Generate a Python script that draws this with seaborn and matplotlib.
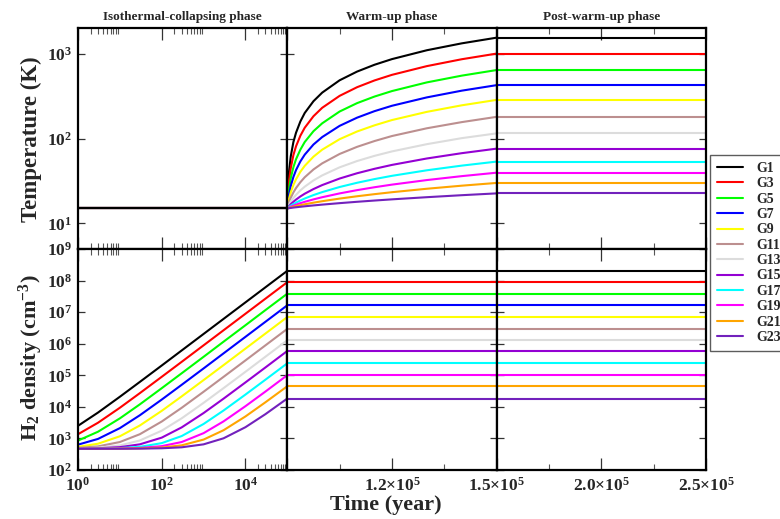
import numpy as np
import pandas as pd
import seaborn as sns
import matplotlib
matplotlib.use("Agg")
import matplotlib.pyplot as plt
from matplotlib.lines import Line2D
from matplotlib.ticker import FixedLocator, FixedFormatter, NullLocator

# ---------------- data ----------------
groups = ['G1', 'G3', 'G5', 'G7', 'G9', 'G11', 'G13', 'G15', 'G17', 'G19', 'G21', 'G23']
colors = ['#000000', '#ff0000', '#00ff00', '#0000ff', '#ffff00', '#bc8f8f',
          '#dcdcdc', '#9400d3', '#00ffff', '#ff00ff', '#ffa500', '#7221bc']

# Isothermal-collapsing phase
t_collapse = [1, 3, 10, 30, 100, 300, 1e3, 3e3, 1e4, 3e4, 1e5]
n_collapse = {
    'G1':  [2510, 6590, 20900, 61700, 2.04e5, 6.12e5, 2.04e6, 6.12e6, 2.04e7, 6.12e7, 2.04e8],
    'G3':  [1360, 3140, 9370, 27200, 89500, 2.67e5, 8.9e5, 2.67e6, 8.9e6, 2.67e7, 8.9e7],
    'G5':  [855, 1630, 4320, 12000, 39000, 1.16e5, 3.85e5, 1.16e6, 3.85e6, 1.16e7, 3.85e7],
    'G7':  [635, 965, 2120, 5420, 17000, 50000, 1.65e5, 4.95e5, 1.65e6, 4.95e6, 1.65e7],
    'G9':  [540, 680, 1170, 2570, 7470, 21500, 70500, 2.1e5, 7.0e5, 2.1e6, 7.0e6],
    'G11': [500, 560, 770, 1360, 3430, 9350, 30100, 89300, 2.96e5, 8.88e5, 2.96e6],
    'G13': [483, 510, 600, 860, 1760, 4340, 13400, 39200, 1.29e5, 3.87e5, 1.29e6],
    'G15': [476, 488, 530, 650, 1060, 2240, 6370, 18200, 59500, 1.77e5, 5.9e5],
    'G17': [472, 477, 494, 542, 710, 1190, 2870, 7670, 24500, 72500, 2.4e5],
    'G19': [471, 473, 480, 500, 570, 770, 1470, 3470, 10500, 30500, 1.01e5],
    'G21': [470, 471, 475, 484, 515, 605, 920, 1820, 4970, 13970, 4.5e4],
    'G23': [470, 471, 472, 475, 488, 524, 650, 1010, 2270, 5870, 1.84e4],
}
t_iso_T = [1, 1e5]
T_iso = [15, 15]

# Warm-up phase
t_warm = [9.0e4, 9.05e4, 9.1e4, 9.175e4, 9.25e4, 9.375e4, 9.5e4, 9.75e4,
          1.0e5, 1.05e5, 1.1e5, 1.15e5, 1.2e5, 1.3e5, 1.4e5, 1.5e5]
T_warm = {
    'G1':  [15, 41, 62, 91, 117, 159, 200, 275, 347, 485, 614, 739, 861, 1095, 1320, 1540],
    'G3':  [15, 32, 45, 64, 81, 108, 134, 183, 230, 318, 402, 483, 562, 712, 858, 1000],
    'G5':  [15, 25.7, 34.3, 46, 57, 74, 91, 122, 151, 208, 261, 312, 362, 458, 550, 640],
    'G7':  [15, 22.0, 27.7, 35.3, 42.5, 53.8, 64.6, 85.0, 104, 141, 176, 210, 243, 305, 366, 425],
    'G9':  [15, 19.6, 23.3, 28.4, 33.1, 40.6, 47.7, 61.1, 73.9, 98.2, 121, 143, 165, 206, 246, 285],
    'G11': [15, 17.8, 20.1, 23.2, 26.1, 30.6, 35.0, 43.2, 51.0, 65.8, 79.8, 93.4, 107, 132, 156, 180],
    'G13': [15, 16.7, 18.1, 20.0, 21.7, 24.5, 27.1, 32.1, 36.8, 45.8, 54.3, 62.5, 70.5, 85.8, 101, 115],
    'G15': [15, 16.0, 16.9, 18.0, 19.1, 20.8, 22.4, 25.4, 28.3, 33.8, 39.0, 44.0, 48.9, 58.2, 67.2, 76],
    'G17': [15, 15.66, 16.19, 16.91, 17.58, 18.65, 19.66, 21.58, 23.39, 26.86, 30.13, 33.29, 36.37, 42.26, 47.96, 53.5],
    'G19': [15, 15.42, 15.76, 16.22, 16.65, 17.33, 17.98, 19.20, 20.36, 22.58, 24.67, 26.69, 28.65, 32.42, 36.06, 39.6],
    'G21': [15, 15.26, 15.46, 15.74, 16.0, 16.42, 16.82, 17.56, 18.27, 19.62, 20.9, 22.13, 23.33, 25.62, 27.84, 30],
    'G23': [15, 15.13, 15.23, 15.38, 15.51, 15.72, 15.92, 16.30, 16.66, 17.34, 17.99, 18.61, 19.22, 20.38, 21.51, 22.6],
}
t_warm_flat = [9.0e4, 1.5e5]
n_final = [2.04e8, 8.9e7, 3.85e7, 1.65e7, 7.0e6, 2.96e6, 1.29e6, 5.9e5, 2.4e5, 1.01e5, 4.5e4, 1.84e4]

# Post-warm-up phase
t_post = [1.5e5, 2.5e5]
T_final = [1540, 1000, 640, 425, 285, 180, 115, 76, 53.5, 39.6, 30, 22.6]

# ---------------- style ----------------
sns.set_theme(style='white')
plt.rcParams['font.family'] = ['Liberation Serif', 'DejaVu Serif']
plt.rcParams['font.weight'] = 'bold'
plt.rcParams['mathtext.fontset'] = 'custom'
plt.rcParams['mathtext.rm'] = 'Liberation Serif:bold'
plt.rcParams['mathtext.bf'] = 'Liberation Serif:bold'
plt.rcParams['mathtext.it'] = 'Liberation Serif:bold'

palette = dict(zip(groups, colors))
LW = 1.5


def frame(rows):
    return pd.DataFrame(rows, columns=['t', 'v', 'g'])


def draw(ax, df, order):
    sns.lineplot(data=df, x='t', y='v', hue='g', hue_order=order, palette=palette,
                 estimator=None, sort=False, legend=False, linewidth=LW, ax=ax)
    ax.set_xlabel('')
    ax.set_ylabel('')


fig, axes = plt.subplots(2, 3, figsize=(7.8, 5.19), dpi=100)
fig.subplots_adjust(left=0.1, right=0.905, bottom=0.0944, top=0.946, wspace=0, hspace=0)

for ax in axes.flat:
    ax.set_yscale('log')
axes[0, 0].set_xscale('log')
axes[1, 0].set_xscale('log')

# top-left: temperature constant
df = frame([(t, T, g) for g in groups for t, T in zip(t_iso_T, T_iso)])
draw(axes[0, 0], df, groups[::-1])
# top-middle: warm-up
df = frame([(t, T, g) for g in groups for t, T in zip(t_warm, T_warm[g])])
draw(axes[0, 1], df, groups)
# top-right: post
df = frame([(t, T_final[i], g) for i, g in enumerate(groups) for t in t_post])
draw(axes[0, 2], df, groups)
# bottom-left: density collapse
df = frame([(t, n, g) for g in groups for t, n in zip(t_collapse, n_collapse[g])])
draw(axes[1, 0], df, groups)
# bottom-middle
df = frame([(t, n_final[i], g) for i, g in enumerate(groups) for t in t_warm_flat])
draw(axes[1, 1], df, groups)
# bottom-right
df = frame([(t, n_final[i], g) for i, g in enumerate(groups) for t in t_post])
draw(axes[1, 2], df, groups)

# ---------------- axes formatting ----------------
xlims = [(1, 1e5), (9e4, 1.5e5), (1.5e5, 2.5e5)]
xmaj = [[1, 100, 1e4], [9e4, 1.2e5, 1.5e5], [1.5e5, 2.0e5, 2.5e5]]
xmin = [[m * d for d in (1, 100, 1e4) for m in range(2, 10)], [1.05e5, 1.35e5], [1.75e5, 2.25e5]]
xlab = [[r'$\mathbf{10^{0}}$', r'$\mathbf{10^{2}}$', r'$\mathbf{10^{4}}$'],
        ['', r'$\mathbf{1.2{\times}10^{5}}$', r'$\mathbf{1.5{\times}10^{5}}$'],
        ['', r'$\mathbf{2.0{\times}10^{5}}$', r'$\mathbf{2.5{\times}10^{5}}$']]

for r in range(2):
    for c in range(3):
        ax = axes[r, c]
        ax.set_xlim(*xlims[c])
        if r == 0:
            ax.set_ylim(5, 2000)
            ax.yaxis.set_major_locator(FixedLocator([10, 100, 1000]))
            ylabels = [r'$\mathbf{10^{1}}$', r'$\mathbf{10^{2}}$', r'$\mathbf{10^{3}}$']
        else:
            ax.set_ylim(1e2, 1e9)
            ax.yaxis.set_major_locator(FixedLocator([10.0 ** k for k in range(2, 10)]))
            ylabels = [r'$\mathbf{10^{%d}}$' % k for k in range(2, 10)]
        ax.yaxis.set_minor_locator(NullLocator())
        if c == 0:
            ax.yaxis.set_major_formatter(FixedFormatter(ylabels))
        else:
            ax.set_yticklabels([])
        ax.xaxis.set_major_locator(FixedLocator(xmaj[c]))
        ax.xaxis.set_minor_locator(FixedLocator(xmin[c]))
        if r == 1:
            ax.xaxis.set_major_formatter(FixedFormatter(xlab[c]))
        else:
            ax.set_xticklabels([])
        ax.tick_params(axis='x', which='major', direction='in', length=8.5, width=0.9,
                       top=True, bottom=True, labelsize=12.5, pad=5, color='#333333')
        ax.tick_params(axis='x', which='minor', direction='in', length=4.3, width=0.8,
                       top=True, bottom=True, color='#555555')
        ax.tick_params(axis='y', which='major', direction='in', length=5, width=0.9,
                       left=True, right=True, labelsize=12.5, pad=4, color='#333333')
        for s in ax.spines.values():
            s.set_color('black')
            s.set_linewidth(1.6)
        ax.set_facecolor('white')

titles = ['Isothermal-collapsing phase', 'Warm-up phase', 'Post-warm-up phase']
for c in range(3):
    axes[0, c].set_title(titles[c], fontsize=9.5, fontweight='bold', pad=6)

fig.text(31 / 780, 1 - 139 / 519, 'Temperature (K)', rotation=90, ha='center', va='center',
         fontsize=16.5, fontweight='bold')
fig.text(31 / 780, 1 - 358 / 519, r'$\mathbf{H_{2}}$ density (cm$^{\mathbf{-3}}$)', rotation=90,
         ha='center', va='center', fontsize=16, fontweight='bold')
fig.text(386 / 780, 1 - 505 / 519, 'Time (year)', ha='center', va='center',
         fontsize=16, fontweight='bold')

handles = [Line2D([0], [0], color=col, lw=LW) for col in colors]
leg = fig.legend(handles, groups, loc='upper left', bbox_to_anchor=(710 / 780, 1 - 155 / 519),
                 borderaxespad=0, handlelength=1.9, handletextpad=0.95,
                 labelspacing=0.17, borderpad=0.5, fancybox=False, frameon=True,
                 prop={'weight': 'bold', 'size': 10})
leg.get_frame().set_edgecolor('#333333')
leg.get_frame().set_linewidth(1.0)

fig.savefig('out.png', dpi=100, facecolor='white')
